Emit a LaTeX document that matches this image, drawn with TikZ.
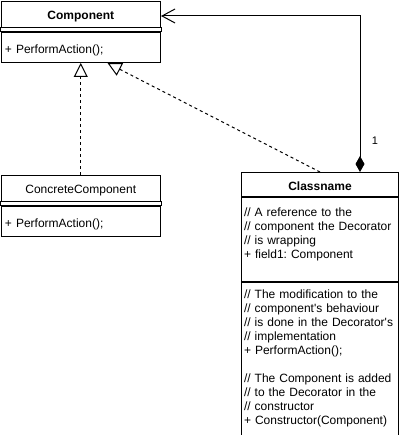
\documentclass[tikz,border=0pt]{standalone}
\usepackage{fontspec}
\setmainfont{Liberation Sans}
\usetikzlibrary{arrows.meta,calc,positioning}

\begin{document}
\begin{tikzpicture}[x=1pt,y=-1pt,line width=1pt,font=\fontsize{12}{14}\selectfont\frenchspacing]
\tikzstyle{head}=[draw,font=\fontsize{12}{14}\selectfont\bfseries,minimum width=159.5pt,inner sep=0pt,text height=18pt,text depth=8pt]
\tikzstyle{members}=[draw,align=left,text width=151.5pt,inner xsep=4pt,inner ysep=0pt,text height=21pt,text depth=9pt,execute at begin node={\hyphenpenalty=10000\relax}]
\tikzstyle{realize}=[dash pattern=on 3pt off 3pt,arrows={-Triangle[open,length=14pt,width=14pt]}]
\tikzstyle{compose}=[arrows={Diamond[length=16pt,width=9pt]-Straight Barb[length=13pt,width=14pt]}]

\useasboundingbox (0,0) rectangle (401,435);

\node[head,anchor=north west] (Comp) at (0.5,1) {Component};
\node[members,below=4pt of Comp] (CompOps) {+ PerformAction();};
\node[head,below=112pt of CompOps,font=\fontsize{12}{14}\selectfont] (Conc) {ConcreteComponent};
\node[members,below=4pt of Conc] (ConcOps) {+ PerformAction();};
\node[head,anchor=north west,minimum width=157pt,text depth=6pt] (Deco) at (241,172) {Classname};
\node[members,below=0pt of Deco,inner xsep=2.5pt,text width=152pt,text height=19pt,text depth=65pt] (DecoAttr)
  {// A reference to the\\\mbox{// component the Decorator}\\// is wrapping\\+ field1: Component};
\node[members,below=0pt of DecoAttr,inner xsep=2.5pt,text width=152pt,text height=16pt,text depth=137pt] (DecoOps)
  {// The modification to the\\// component\textquotesingle s behaviour\\\mbox{// is done in the Decorator\textquotesingle s}\\// implementation\\+ PerformAction();\\[14pt]%
   \mbox{// The Component is added}\\// to the Decorator in the\\// constructor\\\mbox{+ Constructor(Component)}};

% double lines under the headers
\draw (Comp.south west) rectangle (CompOps.north east);
\draw (Conc.south west) rectangle (ConcOps.north east);

\path
(Conc) edge[realize] (CompOps)
($(Deco.north west)+(79,0)$) edge[realize] ($(CompOps.south west)+(107,0)$)
;
\draw[compose] ($(Deco.north west)+(119,0)$) |- node[pos=0.1,right=8pt,font=\fontsize{11}{13}\selectfont] {1} ($(Comp.north east)+(0,15)$);
\end{tikzpicture}
\end{document}
